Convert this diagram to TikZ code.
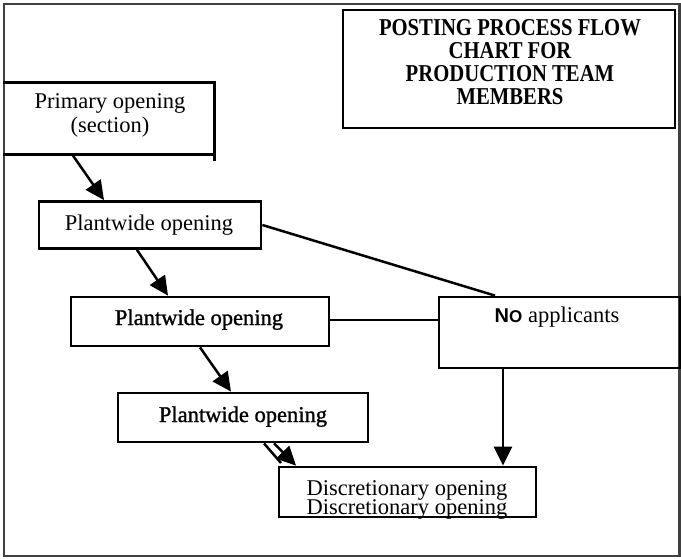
\documentclass[tikz,border=0pt]{standalone}
\usepackage{fontspec}
\setmainfont{Liberation Serif}
\newfontfamily\nofont{Liberation Sans}
\usetikzlibrary{arrows.meta}
\begin{document}
\begin{tikzpicture}[x=1pt,y=-1pt,
  boxline/.style={line width=2.8pt},
  flowbox/.style={draw,boxline,rectangle,inner sep=0pt},
  lbl/.style={anchor=base,inner sep=0pt,font=\fontsize{22.5}{23}\selectfont},
  flowarrow/.style={line width=2.5pt,-{Triangle[length=19pt,width=18pt]}},
  flowline/.style={line width=2.5pt}]
\useasboundingbox (0,0) rectangle (681,559);
% outer frame
\draw[line width=2.2pt,black!75] (4,4) rectangle (679.5,556);
% title
\node[flowbox,minimum width=332pt,minimum height=118pt] (title) at (509,69) {};
\node[anchor=base,inner sep=0pt,align=center,font=\fontsize{22}{23}\selectfont\bfseries] (titletext) at (510,105)
  {\scalebox{0.94}[1.1]{POSTING PROCESS FLOW}\\\scalebox{0.94}[1.1]{CHART FOR}\\\scalebox{0.94}[1.1]{PRODUCTION TEAM}\\\scalebox{0.94}[1.1]{MEMBERS}};
% primary opening box (left side is the frame)
\node[inner sep=0pt,minimum width=211pt,minimum height=71pt] (prim) at (109,118.5) {};
\draw[boxline] (prim.north west) -- (prim.north east) -- ([yshift=-7pt]prim.south east);
\draw[boxline] (prim.south west) -- (prim.south east);
\node[lbl,align=center,font=\fontsize{22.5}{24}\selectfont] (primtext) at (110,133) {Primary opening\\(section)};
% plantwide 1
\node[flowbox,minimum width=222pt,minimum height=47pt] (pw1) at (150,225) {};
\node[lbl] (pw1text) at (149,231) {Plantwide opening};
% plantwide 2
\node[flowbox,minimum width=258pt,minimum height=49pt] (pw2) at (200,321.5) {};
\node[lbl,font=\fontsize{22.5}{23}\selectfont\addfontfeature{FakeBold=1.2}] (pw2text) at (199,325) {Plantwide opening};
% plantwide 3
\node[flowbox,minimum width=250pt,minimum height=49pt] (pw3) at (243,417.5) {};
\node[lbl,font=\fontsize{22.5}{23}\selectfont\addfontfeature{FakeBold=1.2}] (pw3text) at (243,422) {Plantwide opening};
% no applicants
\node[flowbox,minimum width=241pt,minimum height=71pt] (noapp) at (559.5,332.5) {};
\node[lbl] (noapptext) at (557,323) {{\nofont\bfseries\fontsize{20}{23}\selectfont N\fontsize{17}{23}\selectfont O} applicants};
% discretionary
\node[flowbox,minimum width=257pt,minimum height=50pt] (disc) at (407.5,492) {};
\node[lbl] (disctext) at (407,495) {Discretionary opening};
\node[lbl] (disctext2) at (407,514) {Discretionary opening};
% connectors
\draw[flowarrow] (prim.south -| 72,0) -- (pw1.north -| 104,0);
\draw[flowarrow] (pw1.south -| 137,0) -- (pw2.north -| 168,0);
\draw[flowarrow] (pw2.south -| 200,0) -- (pw3.north -| 231,0);
\draw[flowarrow] (pw3.south -| 274,0) -- (disc.north -| 296,0);
\draw[flowline] (pw3.south -| 264,0) -- (281,463);
\draw[flowline] (pw1.east) -- (noapp.north -| 495,0);
\draw[flowline] (pw2.east |- 0,320) -- (noapp.west |- 0,320);
\draw[flowarrow] (noapp.south -| 503,0) -- (disc.north -| 503,0);
\end{tikzpicture}
\end{document}
